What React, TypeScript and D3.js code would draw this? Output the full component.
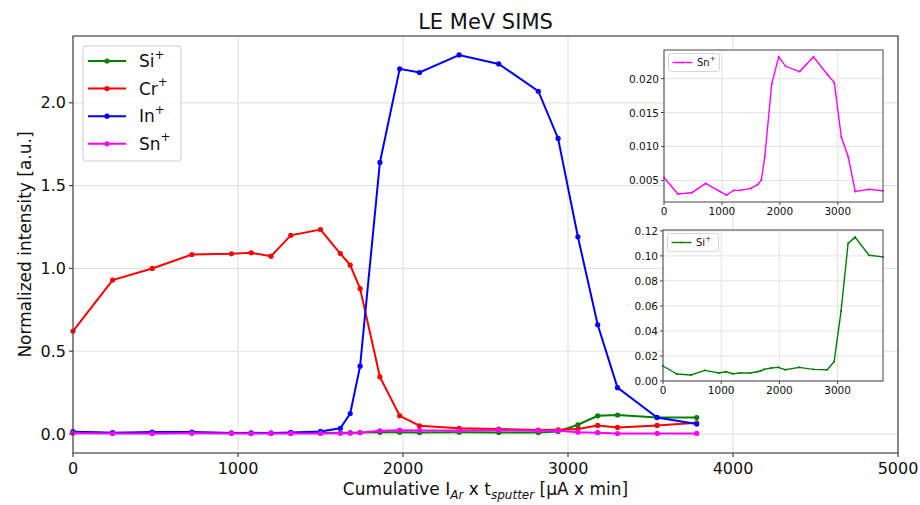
import React from "react";
import * as d3 from "d3";

const xVals = [0, 240, 480, 720, 960, 1080, 1200, 1320, 1500, 1620, 1680, 1740, 1860, 1980, 2100, 2340, 2580, 2820, 2940, 3060, 3180, 3300, 3540, 3780];
const siVals = [0.012, 0.0056, 0.0048, 0.0085, 0.0064, 0.0074, 0.0058, 0.0064, 0.0064, 0.0074, 0.0082, 0.0093, 0.0104, 0.0109, 0.009, 0.0109, 0.0093, 0.009, 0.0154, 0.056, 0.11, 0.115, 0.1005, 0.0992];
const crVals = [0.622, 0.93, 1.0, 1.084, 1.088, 1.094, 1.074, 1.2, 1.235, 1.09, 1.02, 0.878, 0.345, 0.11, 0.05, 0.035, 0.03, 0.024, 0.026, 0.03, 0.052, 0.04, 0.052, 0.068];
const inVals = [0.014, 0.008, 0.012, 0.012, 0.006, 0.006, 0.006, 0.01, 0.016, 0.035, 0.124, 0.41, 1.64, 2.205, 2.183, 2.289, 2.235, 2.07, 1.785, 1.191, 0.66, 0.28, 0.1, 0.06];
const snVals = [0.00544, 0.003, 0.00319, 0.00456, 0.0034, 0.00284, 0.00353, 0.00353, 0.00382, 0.00441, 0.00505, 0.00848, 0.01926, 0.02319, 0.02181, 0.02103, 0.02319, 0.0206, 0.0194, 0.01142, 0.00848, 0.00338, 0.00368, 0.00348];

const seriesNames = ["Si", "Cr", "In", "Sn"];
const seriesColors = ["#008000", "#ff0000", "#0000ff", "#ff00ff"];
const seriesData = [siVals, crVals, inVals, snVals];

const mainXTicks = [0, 1000, 2000, 3000, 4000, 5000];
const mainYTicks = [0, 0.5, 1.0, 1.5, 2.0];
const insetXTicks = [0, 1000, 2000, 3000];
const snYTicks = [0.005, 0.01, 0.015, 0.02];
const siYTicks = [0, 0.02, 0.04, 0.06, 0.08, 0.1, 0.12];

const FONT = "DejaVu Sans, sans-serif";
const GRID = "#e3e3e3";
const SPINE = "#444";

function Label({ name, x, y, size }: { name: string; x: number; y: number; size: number }) {
  return (
    <text x={x} y={y} fontSize={size} fontFamily={FONT} fill="#111" dominantBaseline="central">
      {name}
      <tspan fontSize={size * 0.7} dy={-size * 0.38}>+</tspan>
    </text>
  );
}

function Inset({ left, right, top, bottom, yDomain, yTicks, vals, color, name, fmt }: any) {
  const x = d3.scaleLinear().domain([0, 3780]).range([left, right]);
  const y = d3.scaleLinear().domain(yDomain).range([bottom, top]);
  const line = d3.line<number>().x((_, i) => x(xVals[i])).y((d) => y(d));
  const fs = 10.5;
  return (
    <g>
      <rect x={left} y={top} width={right - left} height={bottom - top} fill="white" />
      {insetXTicks.map((t) => (
        <line key={"gx" + t} x1={x(t)} x2={x(t)} y1={top} y2={bottom} stroke={GRID} strokeWidth={1} />
      ))}
      {yTicks.map((t: number) => (
        <line key={"gy" + t} x1={left} x2={right} y1={y(t)} y2={y(t)} stroke={GRID} strokeWidth={1} />
      ))}
      <path d={line(vals) || ""} fill="none" stroke={color} strokeWidth={1.4} />
      {vals.map((v: number, i: number) => (
        <circle key={i} cx={x(xVals[i])} cy={y(v)} r={1} fill={color} />
      ))}
      <rect x={left} y={top} width={right - left} height={bottom - top} fill="none" stroke={SPINE} strokeWidth={1} />
      {insetXTicks.map((t) => (
        <g key={"tx" + t}>
          <line x1={x(t)} x2={x(t)} y1={bottom} y2={bottom + 3} stroke={SPINE} />
          <text x={x(t)} y={bottom + 9} fontSize={fs} fontFamily={FONT} textAnchor="middle" dominantBaseline="central" fill="#111">
            {t}
          </text>
        </g>
      ))}
      {yTicks.map((t: number) => (
        <g key={"ty" + t}>
          <line x1={left - 3} x2={left} y1={y(t)} y2={y(t)} stroke={SPINE} />
          <text x={left - 5} y={y(t)} fontSize={fs} fontFamily={FONT} textAnchor="end" dominantBaseline="central" fill="#111">
            {fmt(t)}
          </text>
        </g>
      ))}
      <rect x={left + 4.5} y={top + 3.5} width={51} height={18} rx={2} fill="white" fillOpacity={0.8} stroke="#ccc" strokeWidth={0.8} />
      <line x1={left + 8.5} x2={left + 28.5} y1={top + 12.5} y2={top + 12.5} stroke={color} strokeWidth={1.4} />
      <circle cx={left + 18.5} cy={top + 12.5} r={1} fill={color} />
      <Label name={name} x={left + 33} y={top + 12.5} size={10} />
    </g>
  );
}

export default function App() {
  const W = 920, H = 505;
  const L = 73, R = 898, T = 36, B = 453;
  const x = d3.scaleLinear().domain([0, 5000]).range([L, R]);
  const y = d3.scaleLinear().domain([-0.1145, 2.4035]).range([B, T]);
  const line = d3.line<number>().x((_, i) => x(xVals[i])).y((d) => y(d));
  const fs = 16;

  return (
    <svg width={W} height={H} style={{ position: "absolute", left: 0, top: 0, background: "white" }}>
      <rect x={0} y={0} width={W} height={H} fill="white" />
      <text x={(L + R) / 2} y={29} fontSize={21} fontFamily={FONT} textAnchor="middle" fill="#111">
        LE MeV SIMS
      </text>
      {mainXTicks.map((t) => (
        <line key={"gx" + t} x1={x(t)} x2={x(t)} y1={T} y2={B} stroke={GRID} strokeWidth={1.2} />
      ))}
      {mainYTicks.map((t) => (
        <line key={"gy" + t} x1={L} x2={R} y1={y(t)} y2={y(t)} stroke={GRID} strokeWidth={1.2} />
      ))}
      {seriesData.map((vals, k) => (
        <g key={k}>
          <path d={line(vals) || ""} fill="none" stroke={seriesColors[k]} strokeWidth={2} />
          {vals.map((v, i) => (
            <circle key={i} cx={x(xVals[i])} cy={y(v)} r={2.6} fill={seriesColors[k]} />
          ))}
        </g>
      ))}
      <rect x={L} y={T} width={R - L} height={B - T} fill="none" stroke={SPINE} strokeWidth={1.2} />
      {mainXTicks.map((t) => (
        <g key={"tx" + t}>
          <line x1={x(t)} x2={x(t)} y1={B} y2={B + 4} stroke={SPINE} strokeWidth={1.2} />
          <text x={x(t)} y={B + 15} fontSize={fs} fontFamily={FONT} textAnchor="middle" dominantBaseline="central" fill="#111">
            {t}
          </text>
        </g>
      ))}
      {mainYTicks.map((t) => (
        <g key={"ty" + t}>
          <line x1={L - 4} x2={L} y1={y(t)} y2={y(t)} stroke={SPINE} strokeWidth={1.2} />
          <text x={L - 7} y={y(t)} fontSize={fs} fontFamily={FONT} textAnchor="end" dominantBaseline="central" fill="#111">
            {t.toFixed(1)}
          </text>
        </g>
      ))}
      <text x={(L + R) / 2} y={495} fontSize={17} fontFamily={FONT} textAnchor="middle" fill="#111">
        Cumulative I
        <tspan fontSize={12} fontStyle="italic" dy={3.5}>Ar</tspan>
        <tspan dy={-3.5}> x t</tspan>
        <tspan fontSize={12} fontStyle="italic" dy={3.5}>sputter</tspan>
        <tspan dy={-3.5}> [µA x min]</tspan>
      </text>
      <text
        transform={`translate(25, ${(T + B) / 2}) rotate(-90)`}
        fontSize={17}
        fontFamily={FONT}
        textAnchor="middle"
        dominantBaseline="central"
        fill="#111"
      >
        Normalized intensity [a.u.]
      </text>
      <g>
        <rect x={83} y={46} width={98} height={115} rx={3} fill="white" fillOpacity={0.8} stroke="#ccc" strokeWidth={1} />
        {seriesNames.map((n, k) => {
          const ly = 61 + k * 27.6;
          return (
            <g key={n}>
              <line x1={88} x2={126} y1={ly} y2={ly} stroke={seriesColors[k]} strokeWidth={2} />
              <circle cx={107} cy={ly} r={2.6} fill={seriesColors[k]} />
              <Label name={n} x={139} y={ly} size={17} />
            </g>
          );
        })}
      </g>
      <Inset
        left={664}
        right={883}
        top={50}
        bottom={202}
        yDomain={[0.00182, 0.02421]}
        yTicks={snYTicks}
        vals={snVals}
        color="#ff00ff"
        name="Sn"
        fmt={(t: number) => t.toFixed(3)}
      />
      <Inset
        left={663}
        right={883}
        top={230}
        bottom={381}
        yDomain={[0, 0.1207]}
        yTicks={siYTicks}
        vals={siVals}
        color="#008000"
        name="Si"
        fmt={(t: number) => t.toFixed(2)}
      />
    </svg>
  );
}
